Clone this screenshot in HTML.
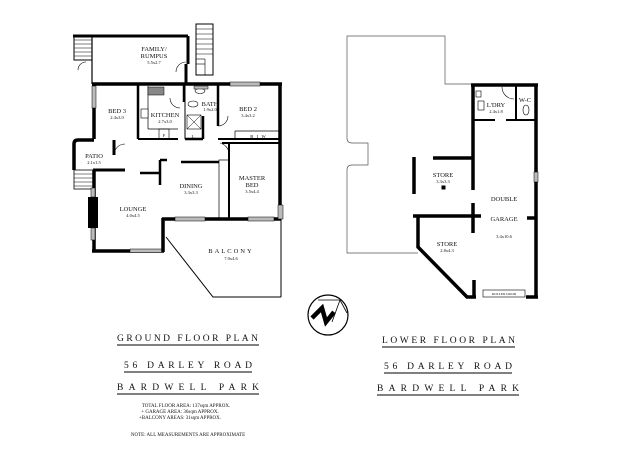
<!DOCTYPE html>
<html><head><meta charset="utf-8"><style>
html,body{margin:0;padding:0;background:#fff;width:640px;height:453px;overflow:hidden}
svg{display:block}
text{font-family:"Liberation Serif",serif;fill:#111}
.l{font-size:6.5px;text-anchor:middle}
.s{font-size:4.5px;text-anchor:middle}
.t{font-size:9.5px}
.n{font-size:5px;text-anchor:middle}
</style></head><body>
<svg width="640" height="453" viewBox="0 0 640 453" xmlns="http://www.w3.org/2000/svg">
<g fill="none" stroke="#000">
<line x1="73" y1="36" x2="188" y2="36" stroke-width="3"/>
<line x1="92" y1="36" x2="92" y2="84" stroke-width="1.2"/>
<line x1="188" y1="36" x2="188" y2="64" stroke-width="3"/>
<line x1="186" y1="64" x2="186" y2="84" stroke-width="3"/>
<rect x="74" y="36" width="18" height="24" stroke-width="1"/>
<g stroke-width="0.6"><line x1="74" y1="40" x2="92" y2="40"/><line x1="74" y1="44" x2="92" y2="44"/><line x1="74" y1="48" x2="92" y2="48"/><line x1="74" y1="52" x2="92" y2="52"/><line x1="74" y1="56" x2="92" y2="56"/></g>
<path d="M78 70 A8 8 0 0 1 86 62" stroke-width="0.6"/>
<rect x="196" y="24" width="17" height="51" stroke-width="1"/>
<g stroke-width="0.6"><line x1="196" y1="29" x2="213" y2="29"/><line x1="196" y1="34" x2="213" y2="34"/><line x1="196" y1="39" x2="213" y2="39"/><line x1="196" y1="44" x2="213" y2="44"/><line x1="196" y1="49" x2="213" y2="49"/><line x1="196" y1="54" x2="213" y2="54"/><line x1="196" y1="59" x2="205" y2="59"/><line x1="196" y1="64" x2="205" y2="64"/><line x1="205" y1="59" x2="205" y2="75"/></g>
<path d="M176 72 A10 10 0 0 1 186 62" stroke-width="0.6"/>
<line x1="92" y1="84" x2="282" y2="84" stroke-width="3.5"/>
<line x1="280" y1="84" x2="280" y2="205" stroke-width="3.5"/>
<line x1="281" y1="205" x2="281" y2="297" stroke-width="1"/>
<line x1="94" y1="84" x2="94" y2="139" stroke-width="3.5"/>
<rect x="92" y="86" width="4" height="22" fill="#bbb" stroke-width="0.5"/>
<path d="M94 140 L78 140 Q74 140 74 144 L74 170" stroke-width="3.5"/>
<line x1="114" y1="140" x2="114" y2="155" stroke-width="3"/>
<line x1="93" y1="170" x2="125" y2="170" stroke-width="3"/>
<path d="M114 155 A11 11 0 0 1 125 144" stroke-width="0.6"/>
<rect x="74" y="170" width="19" height="19" stroke-width="0.8"/>
<g stroke-width="0.5"><line x1="74" y1="174" x2="93" y2="174"/><line x1="74" y1="178" x2="93" y2="178"/><line x1="74" y1="182" x2="93" y2="182"/><line x1="74" y1="186" x2="93" y2="186"/></g>
<line x1="94" y1="170" x2="94" y2="252" stroke-width="3.5"/>
<rect x="88" y="197" width="10" height="31" fill="#000" stroke="none"/>
<rect x="91" y="188" width="4" height="9" fill="#bbb" stroke-width="0.5"/>
<rect x="91" y="228" width="4" height="12" fill="#bbb" stroke-width="0.5"/>
<line x1="92" y1="251" x2="164" y2="251" stroke-width="3.5"/>
<rect x="130" y="249" width="32" height="3.5" fill="#bbb" stroke-width="0.5"/>
<line x1="163" y1="252" x2="163" y2="218" stroke-width="3.5"/>
<line x1="162" y1="219" x2="281" y2="219" stroke-width="3.5"/>
<rect x="175" y="217" width="30" height="4" fill="#bbb" stroke-width="0.5"/>
<rect x="248" y="217" width="26" height="4" fill="#bbb" stroke-width="0.5"/>
<rect x="278" y="205" width="5" height="14" fill="#bbb" stroke-width="0.5"/>
<path d="M166 237 L213 297 L281 297" stroke-width="1"/>
<line x1="138" y1="84" x2="138" y2="139" stroke-width="2.5"/>
<line x1="138" y1="139" x2="178" y2="139" stroke-width="2"/>
<line x1="148" y1="86" x2="148" y2="129" stroke-width="0.7"/>
<line x1="148" y1="129" x2="178" y2="129" stroke-width="0.7"/>
<rect x="148" y="87" width="16" height="8" fill="#888" stroke-width="0.5"/>
<rect x="141" y="109" width="7" height="9" fill="#fff" stroke-width="0.6"/>
<rect x="159" y="129" width="10" height="10" stroke-width="0.6"/>
<path d="M170 98 A10 10 0 0 0 180 108" stroke-width="0.6"/>
<line x1="184" y1="84" x2="184" y2="102" stroke-width="2.5"/>
<line x1="185" y1="84" x2="185" y2="139" stroke-width="1"/>
<line x1="185" y1="139" x2="203" y2="139" stroke-width="2.5"/>
<line x1="203" y1="116" x2="203" y2="139" stroke-width="2.5"/>
<rect x="187" y="115" width="14" height="14" stroke-width="0.6"/>
<line x1="187" y1="115" x2="201" y2="129" stroke-width="0.5"/><line x1="201" y1="115" x2="187" y2="129" stroke-width="0.5"/>
<ellipse cx="200" cy="91" rx="5" ry="2.5" stroke-width="0.6"/>
<ellipse cx="193" cy="104" rx="5" ry="3" stroke-width="0.6"/>
<rect x="194" y="86" width="14" height="3" fill="#bbb" stroke-width="0.5"/>
<line x1="218" y1="84" x2="218" y2="126" stroke-width="2.5"/>
<line x1="218" y1="139" x2="281" y2="139" stroke-width="2"/>
<line x1="235" y1="131" x2="281" y2="131" stroke-width="0.7"/>
<line x1="235" y1="131" x2="235" y2="139" stroke-width="0.7"/>
<rect x="230" y="82" width="30" height="4" fill="#bbb" stroke-width="0.5"/>
<path d="M218 126 A10 10 0 0 0 228 116" stroke-width="0.6"/>
<line x1="222" y1="143" x2="281" y2="143" stroke-width="2"/>
<line x1="229" y1="143" x2="229" y2="218" stroke-width="2"/>
<rect x="219" y="160" width="10" height="58" stroke-width="0.7"/>
<path d="M220 143 A12 12 0 0 1 229 153" stroke-width="0.6"/>
<line x1="181" y1="162" x2="219" y2="162" stroke-width="2.5"/>
<line x1="160" y1="160" x2="160" y2="185" stroke-width="2.5"/>
<line x1="140" y1="173" x2="160" y2="173" stroke-width="2.5"/>
<line x1="160" y1="160" x2="167" y2="160" stroke-width="2.5"/>
<path d="M418 253 L347 253 L347 170 Q347 165 352 165 L368 165 L368 143 L352 143 Q347 143 347 138 L347 36 L445 36 L445 84 L472 84" stroke="#555" stroke-width="0.7"/>
<line x1="471" y1="85" x2="538" y2="85" stroke-width="3.5"/>
<line x1="536" y1="84" x2="536" y2="297" stroke-width="3.5"/>
<rect x="534" y="172" width="4" height="10" fill="#bbb" stroke-width="0.5"/>
<line x1="473" y1="84" x2="473" y2="190" stroke-width="3.5"/>
<line x1="473" y1="120" x2="495" y2="120" stroke-width="2"/>
<line x1="506" y1="120" x2="536" y2="120" stroke-width="2"/>
<line x1="516" y1="84" x2="516" y2="120" stroke-width="2"/>
<path d="M502 87 A12 12 0 0 0 514 99" stroke-width="0.6"/>
<rect x="476" y="91" width="5" height="6" stroke-width="0.6"/>
<rect x="478" y="101" width="6" height="9" stroke-width="0.6"/>
<ellipse cx="526" cy="110" rx="3" ry="5" stroke-width="0.6"/>
<line x1="414" y1="157" x2="414" y2="194" stroke-width="3.5"/>
<line x1="433" y1="158" x2="473" y2="158" stroke-width="3.5"/>
<rect x="442" y="186" width="3" height="3" fill="#000"/>
<line x1="413" y1="216" x2="481" y2="216" stroke-width="3.5"/>
<line x1="473" y1="203" x2="473" y2="233" stroke-width="3.5"/>
<line x1="527" y1="218" x2="537" y2="218" stroke-width="3.5"/>
<path d="M418 216 L418 247 L467 297 L476 297" stroke-width="3.5"/>
<line x1="474" y1="280" x2="474" y2="297" stroke-width="3.5"/>
<line x1="526" y1="297" x2="538" y2="297" stroke-width="3.5"/>
<rect x="483" y="290" width="42" height="7" stroke-width="0.6"/>
<circle cx="328" cy="315" r="20" stroke-width="1.2"/>
<path d="M318 300 L340 300 L347 313 M340 300 L332 322" stroke-width="0.8"/>
<path d="M312 318 L322 308 L326 322 L334 312" stroke-width="4.5"/>
<g stroke-width="1"><line x1="117" y1="345" x2="259" y2="345"/><line x1="124" y1="372" x2="252" y2="372"/><line x1="117" y1="394" x2="259" y2="394"/>
<line x1="382" y1="347" x2="515" y2="347"/><line x1="384" y1="373" x2="512" y2="373"/><line x1="377" y1="395" x2="519" y2="395"/></g>
</g>
<text class="l" x="154" y="51">FAMILY/</text><text class="l" x="154" y="58">RUMPUS</text><text class="s" x="154" y="64">5.5x2.7</text>
<text class="l" x="117" y="113">BED 3</text><text class="s" x="117" y="119">2.4x3.0</text>
<text class="l" x="165" y="117">KITCHEN</text><text class="s" x="165" y="123">2.7x3.0</text>
<text class="l" x="210" y="106">BATH</text><text class="s" x="210" y="111">1.9x2.0</text>
<text class="l" x="248" y="111">BED 2</text><text class="s" x="248" y="117">3.4x3.2</text>
<text class="s" x="258" y="138">B &#160; I &#160; W</text>
<text class="s" x="164" y="137">F</text><text class="s" x="193" y="138">L</text>
<text class="l" x="94" y="158">PATIO</text><text class="s" x="94" y="164">2.1x1.5</text>
<text class="l" x="191" y="188">DINING</text><text class="s" x="191" y="194">3.3x3.3</text>
<text class="l" x="252" y="180">MASTER</text><text class="l" x="252" y="187">BED</text><text class="s" x="252" y="193">3.5x4.4</text>
<text class="l" x="133" y="211">LOUNGE</text><text class="s" x="133" y="217">4.0x4.5</text>
<text class="l" x="231" y="253" style="letter-spacing:2px">BALCONY</text><text class="s" x="231" y="260">7.0x4.6</text>
<text class="l" x="496" y="107">L'DRY</text><text class="s" x="496" y="113">2.4x1.8</text>
<text class="l" x="525" y="102">W-C</text>
<text class="l" x="443" y="177">STORE</text><text class="s" x="443" y="183">3.3x3.3</text>
<text class="l" x="504" y="201">DOUBLE</text>
<text class="l" x="504" y="221">GARAGE</text><text class="s" x="504" y="238">3.4x10.6</text>
<text class="l" x="447" y="246">STORE</text><text class="s" x="447" y="252">2.8x4.3</text>
<text class="s" x="504" y="295" style="font-size:3.5px">ROLLER DOOR</text>
<text class="t" x="117" y="341" textLength="141" lengthAdjust="spacing">GROUND FLOOR PLAN</text>
<text class="t" x="124" y="368" textLength="128" lengthAdjust="spacing">56 DARLEY ROAD</text>
<text class="t" x="117" y="390" textLength="142" lengthAdjust="spacing">BARDWELL PARK</text>
<text class="n" x="186" y="407">TOTAL FLOOR AREA: 137sqm APPROX.</text>
<text class="n" x="180" y="413">+ GARAGE AREA: 36sqm APPROX.</text>
<text class="n" x="180" y="419">+BALCONY AREAS: 31sqm APPROX.</text>
<text class="n" x="188" y="436">NOTE: ALL MEASUREMENTS ARE APPROXIMATE</text>
<text class="t" x="382" y="343" textLength="133" lengthAdjust="spacing">LOWER FLOOR PLAN</text>
<text class="t" x="384" y="369" textLength="128" lengthAdjust="spacing">56 DARLEY ROAD</text>
<text class="t" x="377" y="391" textLength="142" lengthAdjust="spacing">BARDWELL PARK</text>
</svg>
</body></html>
